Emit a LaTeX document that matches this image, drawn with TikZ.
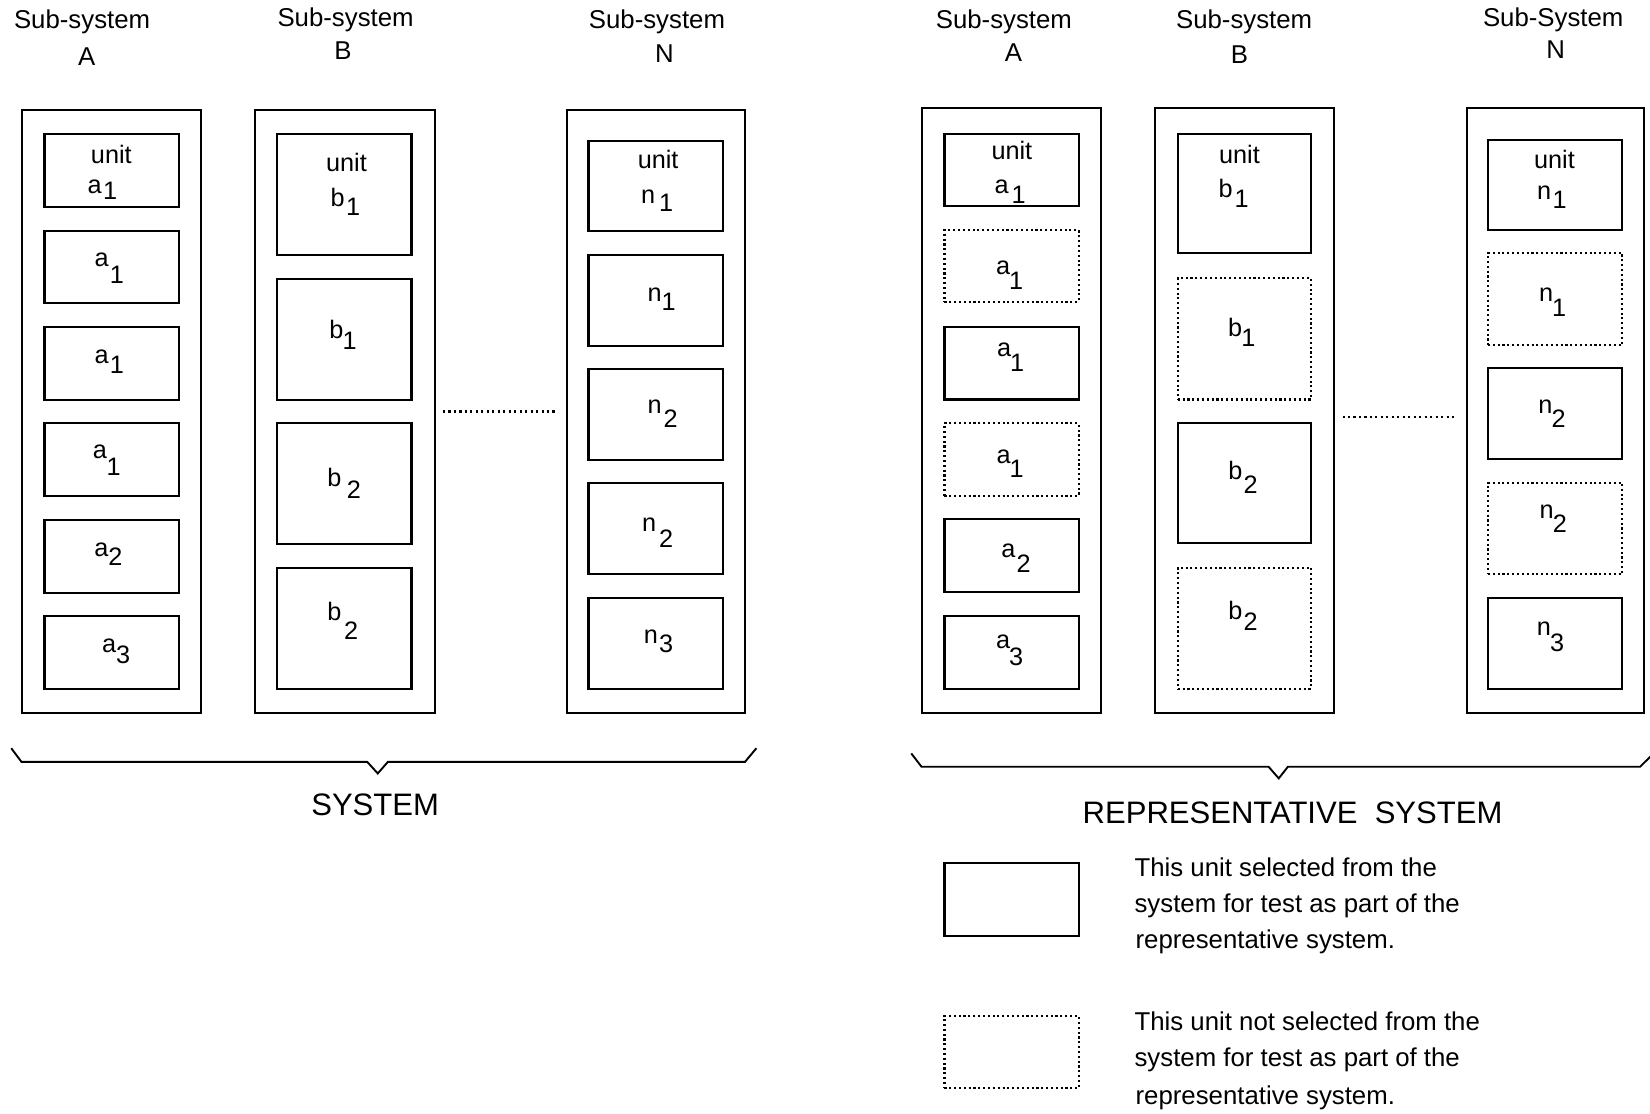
\documentclass[tikz,border=0pt]{standalone}
\usepackage{fontspec}
\setmainfont{Liberation Sans}
\newcommand\ubox[6]{%
  \pgfmathsetmacro\bxcx{(#3+#5)/2}\pgfmathsetmacro\bxcy{(#4+#6)/2}%
  \pgfmathsetmacro\bxw{#5-#3}\pgfmathsetmacro\bxh{#6-#4}%
  \node[#1,minimum width=\bxw pt,minimum height=\bxh pt] (#2) at (\bxcx,\bxcy) {};}
\newcommand\sbl[4]{#1\kern#3pt\raisebox{-#4pt}{#2}}
\begin{document}
\begin{tikzpicture}[x=1pt,y=-1pt,
  outer/.style={draw,line width=2pt,inner sep=0pt},
  sel/.style={draw,line width=2.1pt,inner sep=0pt},
  nsel/.style={draw,line width=2pt,dash pattern=on 2pt off 2.6pt,inner sep=0pt},
  lbl/.style={inner sep=0pt,anchor=base,font=\fontsize{24}{28}\selectfont},
  hdr/.style={inner sep=0pt,anchor=base,font=\fontsize{24.5}{28}\selectfont},
  big/.style={inner sep=0pt,anchor=base,font=\fontsize{29.5}{34}\selectfont},
  leg/.style={inner sep=0pt,anchor=base west,font=\fontsize{24.5}{28}\selectfont},
  brace/.style={draw,line width=1.8pt,line join=miter},
  gap/.style={draw,line width=2pt,dash pattern=on 2pt off 3.2pt}]
\useasboundingbox (0,0) rectangle (1568,1058.6);

% ---------------- headers ----------------
\node[hdr] (hLA1) at (78,27) {Sub-system};
\node[hdr] (hLA2) at (82.5,61.8) {A};
\node[hdr] (hLB1) at (328.4,25.3) {Sub-system};
\node[hdr] (hLB2) at (326,57) {B};
\node[hdr] (hLN1) at (624.3,27) {Sub-system};
\node[hdr] (hLN2) at (631.4,59.6) {N};
\node[hdr] (hRA1) at (954,27) {Sub-system};
\node[hdr] (hRA2) at (963,58.6) {A};
\node[hdr] (hRB1) at (1182.3,27) {Sub-system};
\node[hdr] (hRB2) at (1177.8,60.2) {B};
\node[hdr] (hRN1) at (1476,25.3) {Sub-System};
\node[hdr] (hRN2) at (1478.3,55.4) {N};

% ---------------- left system ----------------
\ubox{outer}{LA}{20.5}{104.5}{190.6}{677.7}
\ubox{outer}{LB}{242.5}{104.5}{413.2}{677.7}
\ubox{outer}{LN}{538.4}{104.5}{708.1}{677.7}

\ubox{sel}{LA1}{42.2}{127.7}{169.8}{196.4}
\ubox{sel}{LA2}{42.2}{219.2}{169.8}{287.6}
\ubox{sel}{LA3}{42.2}{311.1}{169.8}{380.1}
\ubox{sel}{LA4}{42.2}{402.3}{169.8}{471.3}
\ubox{sel}{LA5}{42.2}{494.1}{169.8}{563.2}
\ubox{sel}{LA6}{42.2}{585.4}{169.8}{654.5}

\ubox{sel}{LB1}{263.4}{127.7}{391}{242.3}
\ubox{sel}{LB2}{263.4}{265.4}{391}{380.1}
\ubox{sel}{LB3}{263.4}{402.3}{391}{517.3}
\ubox{sel}{LB4}{263.4}{540.1}{391}{654.5}

\ubox{sel}{LN1}{559.2}{134}{686.8}{219.2}
\ubox{sel}{LN2}{559.2}{242.3}{686.8}{328.5}
\ubox{sel}{LN3}{559.2}{351}{686.8}{437.2}
\ubox{sel}{LN4}{559.2}{459.3}{686.8}{545.8}
\ubox{sel}{LN5}{559.2}{568.6}{686.8}{654.5}

\node[lbl] (LA1u) at (105.8,155.2) {unit};
\node[lbl] (LA1t) at (97.4,184) {\sbl{a}{1}{1.4}{6}};
\node[lbl] (LA2t) at (103.8,253.4) {\sbl{a}{1}{1.2}{15.8}};
\node[lbl] (LA3t) at (103.8,345.3) {\sbl{a}{1}{1.2}{10}};
\node[lbl] (LA4t) at (101.5,435.6) {\sbl{a}{1}{-0.3}{16.7}};
\node[lbl] (LA5t) at (103,528.4) {\sbl{a}{2}{-0.2}{8.6}};
\node[lbl] (LA6t) at (110.3,620.2) {\sbl{a}{3}{-0.1}{10}};

\node[lbl] (LB1u) at (329.3,163.2) {unit};
\node[lbl] (LB1t) at (328.3,196.4) {\sbl{b}{1}{1.3}{8}};
\node[lbl] (LB2t) at (326,321.5) {\sbl{b}{1}{-0.7}{11}};
\node[lbl] (LB3t) at (327,462.5) {\sbl{b}{2}{5.2}{11}};
\node[lbl] (LB4t) at (325.7,589.8) {\sbl{b}{2}{2.7}{17.8}};

\node[lbl] (LN1u) at (625.4,160) {unit};
\node[lbl] (LN1t) at (624.4,193.2) {\sbl{n}{1}{3.7}{8}};
\node[lbl] (LN2t) at (628.8,286.7) {\sbl{n}{1}{-0.1}{8}};
\node[lbl] (LN3t) at (629.8,392.8) {\sbl{n}{2}{1.9}{13.6}};
\node[lbl] (LN4t) at (624.9,505.2) {\sbl{n}{2}{2.7}{15}};
\node[lbl] (LN5t) at (625.7,611.4) {\sbl{n}{3}{1.2}{9}};

\coordinate (gL1) at (421,391);
\coordinate (gL2) at (527.6,391);
\draw[gap] (gL1) -- (gL2);

\draw[brace] (10.7,711) -- (20.4,724) -- (349,724) -- (359,735) -- (368.6,724) -- (708,724) -- (718.8,711);
\node[big] (sys) at (356.5,775) {SYSTEM};

% ---------------- right system ----------------
\ubox{outer}{RA}{876}{103}{1046.4}{677.7}
\ubox{outer}{RB}{1097.8}{103}{1267.6}{677.7}
\ubox{outer}{RN}{1393.7}{103}{1562}{677.7}

\ubox{sel}{RA1}{897.5}{127.7}{1025}{195.8}
\ubox{nsel}{RA2}{897.5}{218.6}{1025}{286.7}
\ubox{sel}{RA3}{897.5}{310.6}{1025}{379.6}
\ubox{nsel}{RA4}{897.5}{402.3}{1025}{471.3}
\ubox{sel}{RA5}{897.5}{493.5}{1025}{562.3}
\ubox{sel}{RA6}{897.5}{585.4}{1025}{654.5}

\ubox{sel}{RB1}{1119.2}{127.7}{1245.8}{240.7}
\ubox{nsel}{RB2}{1119.2}{264.5}{1245.8}{379.6}
\ubox{sel}{RB3}{1119.2}{402.3}{1245.8}{516.3}
\ubox{nsel}{RB4}{1119.2}{539.5}{1245.8}{654.5}

\ubox{sel}{RN1}{1414}{133}{1541.6}{218.6}
\ubox{nsel}{RN2}{1414}{240.7}{1541.6}{327.8}
\ubox{sel}{RN3}{1414}{350}{1541.6}{436.2}
\ubox{nsel}{RN4}{1414}{458.7}{1541.6}{545.8}
\ubox{sel}{RN5}{1414}{568}{1541.6}{654.5}

\node[lbl] (RA1u) at (961.6,152) {unit};
\node[lbl] (RA1t) at (959.9,183.7) {\sbl{a}{1}{2.7}{9.5}};
\node[lbl] (RA2t) at (959.5,261.3) {\sbl{a}{1}{-1}{13.7}};
\node[lbl] (RA3t) at (960.5,339) {\sbl{a}{1}{-1}{13.6}};
\node[lbl] (RA4t) at (960,440.3) {\sbl{a}{1}{-1}{13.7}};
\node[lbl] (RA5t) at (965.5,530) {\sbl{a}{2}{1.3}{13.9}};
\node[lbl] (RA6t) at (959.4,616) {\sbl{a}{3}{-1}{16}};

\node[lbl] (RB1u) at (1177.9,155.2) {unit};
\node[lbl] (RB1t) at (1172.3,187.5) {\sbl{b}{1}{1.8}{9.5}};
\node[lbl] (RB2t) at (1180.1,320) {\sbl{b}{1}{-0.8}{9.5}};
\node[lbl] (RB3t) at (1181.3,456) {\sbl{b}{2}{1.2}{12.8}};
\node[lbl] (RB4t) at (1181.3,589) {\sbl{b}{2}{1.2}{9.7}};

\node[lbl] (RN1u) at (1477.2,160) {unit};
\node[lbl] (RN1t) at (1474.7,190) {\sbl{n}{1}{1.4}{8}};
\node[lbl] (RN2t) at (1475.5,286.7) {\sbl{n}{1}{-1}{14.3}};
\node[lbl] (RN3t) at (1474.8,392.8) {\sbl{n}{2}{-0.8}{13.3}};
\node[lbl] (RN4t) at (1476,492.6) {\sbl{n}{2}{-0.8}{13.3}};
\node[lbl] (RN5t) at (1473.5,603.5) {\sbl{n}{3}{-0.8}{15.8}};

\coordinate (gR1) at (1275.8,396);
\coordinate (gR2) at (1382.5,396);
\draw[gap] (gR1) -- (gR2);

\draw[brace] (866,716) -- (875.7,728.6) -- (1205.5,728.6) -- (1215.2,739.7) -- (1223.9,728.6) -- (1558.6,728.6) -- (1568.3,719);
\node[big] (rsys) at (1228.3,783) {REPRESENTATIVE\ \ SYSTEM};

% ---------------- legend ----------------
\ubox{sel}{K1}{897.5}{820.4}{1025}{889.1}
\ubox{nsel}{K2}{897.5}{965.5}{1025}{1034.2}
\node[leg] (K1a) at (1078,833) {This unit selected from the};
\node[leg] (K1b) at (1078,867.3) {system for test as part of the};
\node[leg] (K1c) at (1079,901.2) {representative system.};
\node[leg] (K2a) at (1078,978.8) {This unit not selected from the};
\node[leg] (K2b) at (1078,1013.7) {system for test as part of the};
\node[leg] (K2c) at (1079,1050) {representative system.};
\end{tikzpicture}
\end{document}
